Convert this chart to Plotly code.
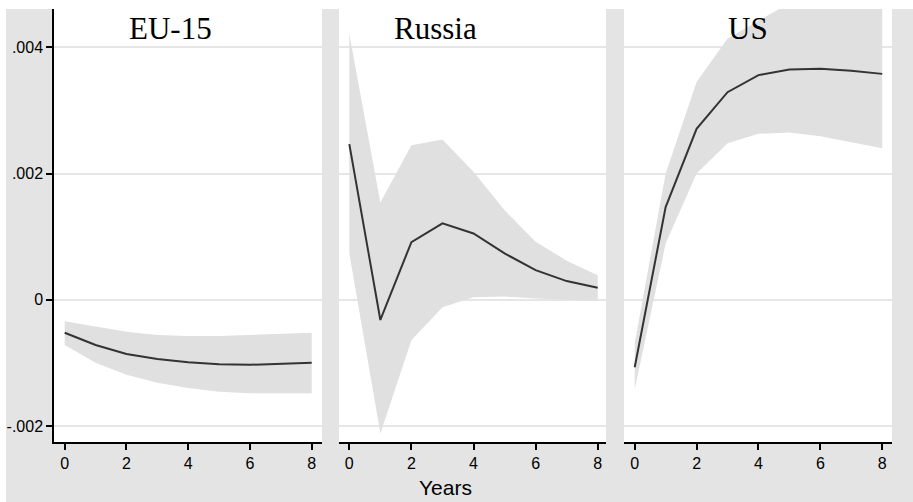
import plotly.graph_objects as go

years = [0, 1, 2, 3, 4, 5, 6, 7, 8]
panels = ["EU-15", "Russia", "US"]

eu_irf = [-0.000522, -0.000717, -0.00086, -0.00094, -0.00099, -0.00102, -0.00103, -0.00102, -0.0010]
eu_upper = [-0.000342, -0.000427, -0.000507, -0.000559, -0.000575, -0.000575, -0.00056, -0.000543, -0.000522]
eu_lower = [-0.000717, -0.000998, -0.00119, -0.001314, -0.0014, -0.001457, -0.00148, -0.00148, -0.00148]

ru_irf = [0.002466, -0.00032, 0.000914, 0.00121, 0.00105, 0.000735, 0.00047, 0.000296, 0.00019]
ru_upper = [0.00421, 0.00154, 0.00245, 0.00254, 0.00203, 0.00142, 0.00092, 0.00062, 0.00039]
ru_lower = [0.000735, -0.00212, -0.00064, -0.00012, 0.00004, 0.00005, 0.00002, 0.0, -0.00002]

us_irf = [-0.00107, 0.00147, 0.00271, 0.00329, 0.00356, 0.00365, 0.00366, 0.00363, 0.00358]
us_upper = [-0.00069, 0.0020, 0.00345, 0.00414, 0.00442, 0.0047, 0.0049, 0.0051, 0.0053]
us_lower = [-0.00142, 0.00089, 0.0020, 0.00248, 0.00263, 0.00265, 0.00259, 0.0025, 0.0024]

y_ticks = [-0.002, 0, 0.002, 0.004]
y_ticklabels = ["-.002", "0", ".002", ".004"]
x_ticks = [0, 2, 4, 6, 8]

W, H = 913, 502
series = [(eu_irf, eu_upper, eu_lower), (ru_irf, ru_upper, ru_lower), (us_irf, us_upper, us_lower)]

fig = go.Figure()
for i, (irf, up, lo) in enumerate(series):
    xa = "x" if i == 0 else f"x{i+1}"
    ya = "y" if i == 0 else f"y{i+1}"
    fig.add_trace(go.Scatter(x=years, y=lo, mode="lines", line=dict(width=0, color="#e0e0e0"),
                             xaxis=xa, yaxis=ya, showlegend=False, hoverinfo="skip"))
    fig.add_trace(go.Scatter(x=years, y=up, mode="lines", line=dict(width=0, color="#e0e0e0"),
                             fill="tonexty", fillcolor="#e0e0e0",
                             xaxis=xa, yaxis=ya, showlegend=False, hoverinfo="skip"))
    fig.add_trace(go.Scatter(x=years, y=irf, mode="lines", line=dict(width=2, color="#333333"),
                             xaxis=xa, yaxis=ya, showlegend=False))

px_domains = [(54, 322), (339, 606), (624, 892)]
x_ranges = [(-0.347, 8.334), (-0.332, 8.267), (-0.346, 8.316)]
y_range = [-0.002254, 0.004608]
ydom = [(H - 442) / H, (H - 9) / H]

layout = dict(
    width=W, height=H,
    margin=dict(l=0, r=0, t=0, b=0),
    paper_bgcolor="#e4e4e4",
    plot_bgcolor="white",
    showlegend=False,
    font=dict(family="Liberation Sans, Arial, sans-serif", color="black"),
)
for i in range(3):
    sfx = "" if i == 0 else str(i + 1)
    d0, d1 = px_domains[i]
    layout["xaxis" + sfx] = dict(
        domain=[d0 / W, d1 / W], range=list(x_ranges[i]), tickvals=x_ticks,
        showgrid=False, zeroline=False, showline=True, linecolor="black", linewidth=1.5,
        ticks="outside", ticklen=6, tickwidth=1.5, tickcolor="black",
        tickfont=dict(size=16, family="Liberation Sans, Arial, sans-serif"),
        anchor="y" + sfx, fixedrange=True,
    )
    layout["yaxis" + sfx] = dict(
        domain=list(ydom), range=y_range, tickvals=y_ticks, ticktext=y_ticklabels,
        showgrid=True, gridcolor="#e6e6e6", gridwidth=2, zeroline=False,
        showline=(i == 0), linecolor="black", linewidth=1.5,
        ticks="outside" if i == 0 else "", ticklen=6, tickwidth=1.5, tickcolor="black",
        showticklabels=(i == 0),
        tickfont=dict(size=16, family="Liberation Sans, Arial, sans-serif"),
        anchor="x" + sfx, fixedrange=True,
    )
fig.update_layout(**layout)

# white strips along the top and left edges (outside the gray frame)
fig.add_shape(type="rect", xref="paper", yref="paper", x0=0, x1=1, y0=(H - 9) / H, y1=1,
              fillcolor="white", line=dict(width=0), layer="below")
fig.add_shape(type="rect", xref="paper", yref="paper", x0=0, x1=6 / W, y0=0, y1=1,
              fillcolor="white", line=dict(width=0), layer="below")

title_x = [170, 435, 748]
for name, tx in zip(panels, title_x):
    fig.add_annotation(text=name, x=tx / W, y=(H - 29) / H, xref="paper", yref="paper",
                       showarrow=False, xanchor="center", yanchor="middle",
                       font=dict(family="Liberation Serif, Times New Roman, serif", size=31, color="black"))

fig.add_annotation(text="Years", x=445 / W, y=(H - 487) / H, xref="paper", yref="paper",
                   showarrow=False, xanchor="center", yanchor="middle",
                   font=dict(family="Liberation Sans, Arial, sans-serif", size=21, color="black"))

fig.write_html("out.html", config={"displayModeBar": False},
               post_script="document.body.style.margin='0';")
